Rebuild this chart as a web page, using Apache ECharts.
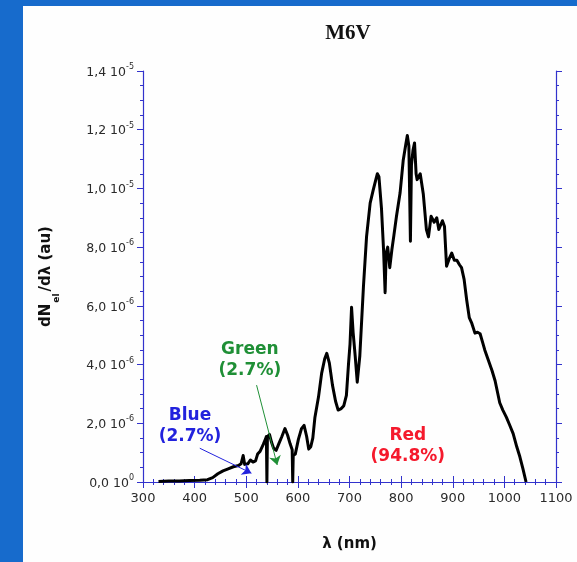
<!DOCTYPE html>
<html>
<head>
<meta charset="utf-8">
<script src="https://cdn.jsdelivr.net/npm/echarts@6/dist/echarts.min.js"></script>
<style>
  html, body { margin: 0; padding: 0; background: #176bcc; }
  #panel { position: absolute; left: 23px; top: 6px; right: 0; bottom: 0; background: #fefefe; }
  #chart { position: absolute; left: 0; top: 0; width: 577px; height: 562px; }
</style>
</head>
<body>
<div id="panel"></div>
<div id="chart"></div>
<script>
// Wavelength samples (nm) of the M6V spectrum
const wavelength = [
  330, 350, 370, 390, 410, 425, 435, 445, 455, 465, 475, 485, 490, 494, 497,
  503, 508, 513, 518, 522, 527, 533, 537, 539, 540, 541, 545, 549, 553, 558,
  563, 569, 575, 580, 585, 589, 590, 591, 595, 601, 607, 612, 617, 621, 625,
  629, 633, 640, 646, 652, 656, 661, 667, 673, 678, 684, 689, 694, 698, 701,
  704, 707, 711, 715, 720, 727, 733, 740, 746, 751, 754, 757, 762, 766, 769,
  771, 774, 778, 782, 786, 791, 798, 804, 809, 812, 815, 817, 818, 820, 823,
  826, 829, 831, 837, 843, 849, 853, 858, 864, 869, 873, 876, 880, 884, 888,
  893, 898, 903, 908, 913, 917, 922, 927, 932, 937, 943, 948, 953, 958, 962,
  969, 976, 982, 991, 997, 1004, 1010, 1017, 1024, 1030, 1036, 1042
];
// dN_el/dλ in units of 1e-6 (au)
const photonRate = [
  0.02, 0.03, 0.03, 0.05, 0.06, 0.08, 0.15, 0.28, 0.38, 0.45, 0.52, 0.56, 0.62, 0.90, 0.60,
  0.62, 0.75, 0.68, 0.72, 0.95, 1.05, 1.28, 1.45, 1.55, 0.00, 1.55, 1.62, 1.35, 1.15, 1.08,
  1.30, 1.55, 1.82, 1.60, 1.30, 1.10, 0.00, 0.90, 0.95, 1.45, 1.82, 1.93, 1.55, 1.12, 1.20,
  1.50, 2.20, 2.90, 3.70, 4.20, 4.38, 4.05, 3.30, 2.75, 2.45, 2.50, 2.60, 2.95, 4.00, 4.70,
  5.95, 5.10, 4.30, 3.40, 4.30, 6.65, 8.35, 9.50, 9.95, 10.30, 10.50, 10.40, 9.30, 7.90, 6.45,
  7.80, 8.00, 7.30, 7.90, 8.40, 9.05, 9.85, 10.95, 11.50, 11.80, 11.45, 11.40, 8.20, 10.80, 11.30,
  11.55, 10.50, 10.30, 10.50, 9.80, 8.60, 8.35, 9.05, 8.85, 9.00, 8.60, 8.55, 8.90, 8.70, 7.35,
  7.60, 7.80, 7.55, 7.55, 7.40, 7.30, 6.90, 6.20, 5.60, 5.40, 5.07, 5.10, 5.05, 4.75, 4.50,
  4.15, 3.80, 3.45, 2.70, 2.45, 2.20, 1.95, 1.65, 1.20, 0.86, 0.45, 0.00
];

// Y tick labels: mantissa and power of ten
const yTickMantissa = ['0,0', '2,0', '4,0', '6,0', '8,0', '1,0', '1,2', '1,4'];
const yTickExponent = ['0', '-6', '-6', '-6', '-6', '-5', '-5', '-5'];

// Band annotations: name, share, label anchor [nm, 1e-6], arrow start/end
const bandNames   = ['Blue', 'Green', 'Red'];
const bandShares  = ['(2.7%)', '(2.7%)', '(94.8%)'];
const bandColors  = ['#2222dd', '#1f8f36', '#f5192c'];
const bandLabelAt = [[391, 1.91], [507, 4.16], [813, 1.23]];
const bandArrows  = [[[410, 1.15], [510, 0.30]], [[520, 3.30], [560, 0.58]], null];

const axisColor = '#3232cc';
const tickFont = 'DejaVu Sans';

const chart = echarts.init(document.getElementById('chart'), null, { renderer: 'canvas' });

const xCommon = {
  type: 'value', min: 300, max: 1100, interval: 100,
  axisLine: { show: true, lineStyle: { color: axisColor, width: 1.2 } },
  axisTick: { show: true, length: 6, lineStyle: { color: axisColor } },
  minorTick: { show: true, splitNumber: 5, length: 3, lineStyle: { color: axisColor } },
  splitLine: { show: false }
};
const yCommon = {
  type: 'value', min: 0, max: 14, interval: 2,
  axisLine: { show: true, lineStyle: { color: axisColor, width: 1.2 } },
  axisTick: { show: true, length: 6, lineStyle: { color: axisColor } },
  minorTick: { show: true, splitNumber: 4, length: 3, lineStyle: { color: axisColor } },
  splitLine: { show: false }
};

const markLines = [];
const markPoints = [];
bandNames.forEach((name, i) => {
  markPoints.push({
    coord: bandLabelAt[i],
    symbol: 'circle', symbolSize: 0,
    label: {
      show: true, position: 'inside',
      formatter: name + '\n' + bandShares[i],
      color: bandColors[i], fontFamily: 'DejaVu Sans', fontWeight: 'bold',
      fontSize: 17, lineHeight: 21, align: 'center'
    }
  });
  if (bandArrows[i]) {
    markLines.push([
      { coord: bandArrows[i][0], lineStyle: { color: bandColors[i], width: 1, type: 'solid' } },
      { coord: bandArrows[i][1] }
    ]);
  }
});

chart.setOption({
  animation: false,
  title: {
    text: 'M6V', left: 343, top: 18, textAlign: 'center',
    textStyle: { fontFamily: 'Liberation Serif', fontWeight: 'bold', fontSize: 21, color: '#111' }
  },
  grid: { left: 143, right: 21, top: 71, bottom: 80, containLabel: false, outerBoundsMode: 'none' },
  xAxis: [
    Object.assign({}, xCommon, {
      position: 'bottom',
      name: 'λ (nm)', nameLocation: 'middle', nameGap: 55,
      nameTextStyle: { fontFamily: 'DejaVu Sans', fontWeight: 'bold', fontSize: 15, color: '#111' },
      axisLabel: {
        show: true, margin: 10, fontFamily: tickFont, fontSize: 13, color: '#2a2a2a',
        formatter: function (v) { return String(v); }
      }
    }),
    Object.assign({}, xCommon, { position: 'top', axisLabel: { show: false } })
  ],
  yAxis: [
    Object.assign({}, yCommon, {
      position: 'left',
      name: '{a|dN}{s|el}{a|/dλ (au)}', nameLocation: 'middle', nameGap: 82, nameRotate: 90,
      nameTextStyle: {
        color: '#111',
        rich: {
          a: { fontFamily: 'DejaVu Sans', fontWeight: 'bold', fontSize: 15, lineHeight: 22, verticalAlign: 'top', color: '#111' },
          s: { fontFamily: 'DejaVu Sans', fontWeight: 'bold', fontSize: 9, lineHeight: 22, verticalAlign: 'bottom', color: '#111', padding: [0, 2, 0, 1] }
        }
      },
      axisLabel: {
        show: true, margin: 9,
        formatter: function (v) {
          const k = Math.round(v / 2);
          return '{m|' + yTickMantissa[k] + ' 10}{e|' + yTickExponent[k] + '}';
        },
        rich: {
          m: { fontFamily: tickFont, fontSize: 12.5, color: '#2a2a2a', lineHeight: 16, verticalAlign: 'bottom' },
          e: { fontFamily: tickFont, fontSize: 8, color: '#2a2a2a', lineHeight: 16, verticalAlign: 'top' }
        }
      }
    }),
    Object.assign({}, yCommon, { position: 'right', axisLabel: { show: false } })
  ],
  series: [{
    type: 'line',
    xAxisIndex: 0, yAxisIndex: 0,
    data: wavelength.map((w, i) => [w, photonRate[i]]),
    showSymbol: false,
    lineStyle: { color: '#000', width: 3, join: 'round' },
    z: 3,
    markLine: {
      silent: true,
      symbol: ['none', 'arrow'], symbolSize: 9,
      label: { show: false },
      data: markLines
    },
    markPoint: { silent: true, data: markPoints }
  }]
});
</script>
</body>
</html>
